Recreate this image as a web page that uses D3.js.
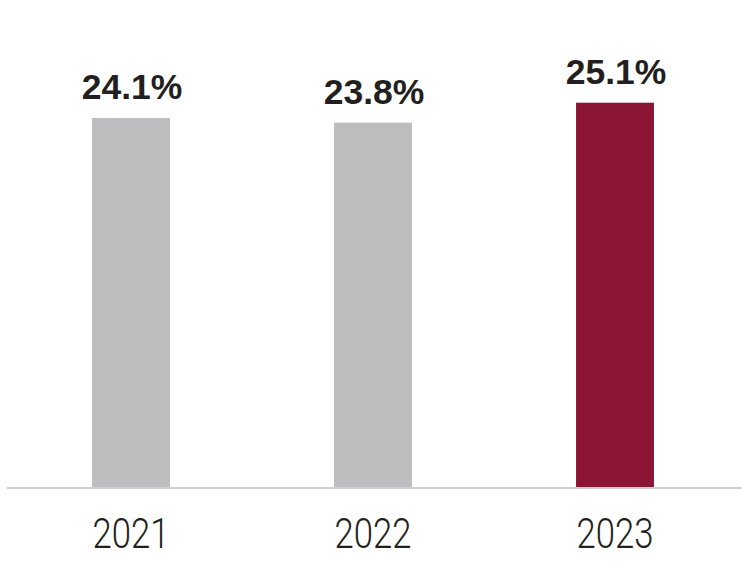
<!DOCTYPE html>
<html><head><meta charset="utf-8">
<script src="https://cdn.jsdelivr.net/npm/d3@7"></script>
<style>body{margin:0;background:#fff}svg{display:block}</style>
</head><body>
<svg id="chart" width="742" height="567"></svg>
<script>
const categories = ["2021", "2022", "2023"];
const values = [24.1, 23.8, 25.1];
const valueLabels = ["24.1%", "23.8%", "25.1%"];
const barColors = ["#bcbdbf", "#bcbdbf", "#8c1535"];

const svg = d3.select("#chart");
const baseY = 487.5;
const x = d3.scaleBand().domain(categories).range([10, 736]).paddingInner(0.678).paddingOuter(0.339);
const y = d3.scaleLinear().domain([0, 31.8]).range([baseY, 0]);

svg.selectAll("rect.bar").data(values).enter().append("rect")
  .attr("class", "bar")
  .attr("x", (d, i) => x(categories[i]))
  .attr("width", x.bandwidth())
  .attr("y", d => y(d))
  .attr("height", d => baseY - y(d))
  .attr("fill", (d, i) => barColors[i]);

svg.append("line").attr("x1", 7).attr("x2", 742).attr("y1", baseY + 0.5).attr("y2", baseY + 0.5)
  .attr("stroke", "#cfcfd0").attr("stroke-width", 2);

svg.selectAll("text.val").data(values).enter().append("text")
  .attr("class", "val")
  .attr("x", (d, i) => x(categories[i]) + x.bandwidth() / 2 + 1)
  .attr("y", d => y(d) - 19)
  .attr("text-anchor", "middle")
  .attr("font-family", "Liberation Sans, Arial, sans-serif")
  .attr("font-weight", "bold")
  .attr("font-size", 35.5)
  .attr("fill", "#231f20")
  .text((d, i) => valueLabels[i]);

svg.selectAll("text.cat").data(categories).enter().append("text")
  .attr("class", "cat")
  .attr("x", d => x(d) + x.bandwidth() / 2)
  .attr("y", 548)
  .attr("text-anchor", "middle")
  .attr("font-family", "Roboto, sans-serif")
  .attr("font-weight", 300)
  .attr("font-size", 42)
  .attr("textLength", 77)
  .attr("lengthAdjust", "spacingAndGlyphs")
  .attr("fill", "#231f20")
  .text(d => d);
</script>
</body></html>
